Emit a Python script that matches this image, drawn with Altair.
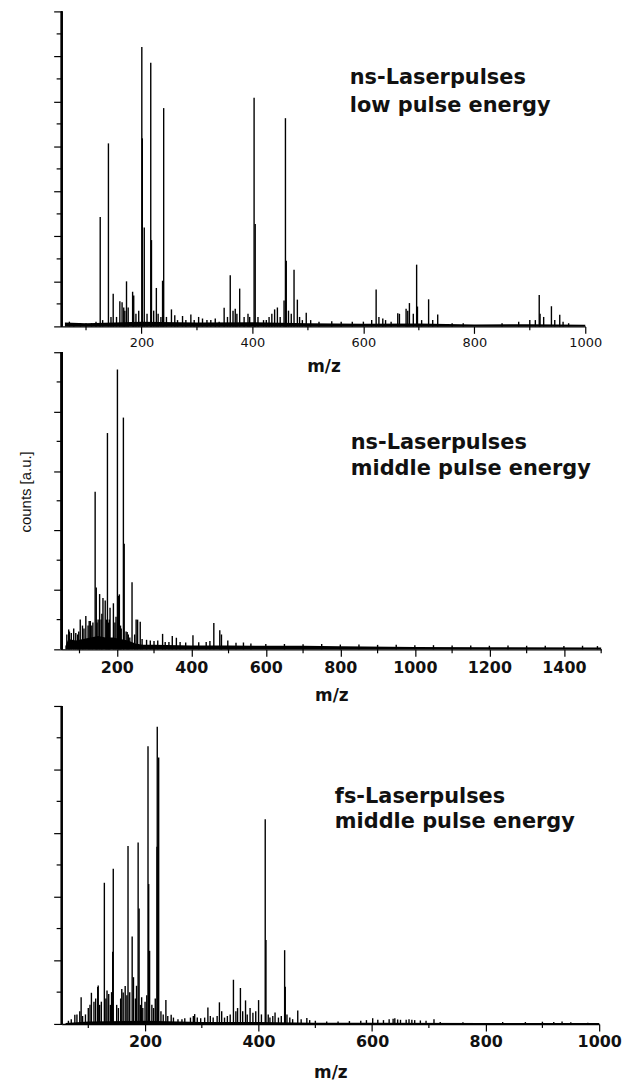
import altair as alt
import pandas as pd

# ---------------- data (% of panel height) ----------------
top_mz = [125.6, 140.4, 149, 161, 165, 173, 184, 186, 200.6, 201.5, 205, 216.7, 218, 226.8,
          238, 240, 254, 260, 274, 289, 303, 349, 360, 369, 377, 392, 403, 405, 440, 457,
          459.5, 461, 475, 481, 497, 543, 623, 662, 677, 683, 696, 697.5, 717.6, 734, 917,
          918.5, 939, 954,
          70, 78, 90, 100, 110, 118, 130, 145, 155, 168, 170, 176, 190, 195, 210, 222, 230,
          235, 245, 265, 280, 295, 310, 318, 325, 333, 340, 355, 365, 372, 385, 395, 410,
          420, 425, 430, 435, 445, 450, 465, 470, 485, 490, 505, 520, 560, 580, 600, 615,
          628, 635, 640, 650, 665, 680, 690, 705, 725, 760, 780, 850, 880, 900, 910, 925,
          945, 960, 970]
top_h = [34.7, 58.1, 10.4, 8, 7.7, 14.3, 11, 9.8, 88.7, 59.7, 31.4, 83.7, 27.4, 12.2,
         14.5, 69.3, 5.4, 3.5, 3.3, 3.8, 3, 5.9, 16.2, 5.6, 12, 4, 72.6, 32.5, 5.4, 8.2,
         66.1, 20.8, 18, 8.5, 4.3, 1.6, 11.7, 4.2, 5.6, 7.4, 19.6, 6.3, 8.6, 3.8, 10,
         4, 6.4, 3.7,
         1.5, 1, 1, 1, 1, 1.5, 2, 3, 3, 6, 5, 6, 4, 5, 4, 5, 4,
         3, 3, 2, 2, 2, 2.5, 2, 2, 2.5, 1.5, 3, 5, 4, 3, 3, 3,
         2, 2, 3, 4, 6, 3, 5, 4, 3, 2, 2, 1.5, 1.5, 1.5, 1.5, 2,
         3, 2.5, 2, 1.5, 4, 5, 4, 2, 2, 1, 1, 1, 1.5, 2, 2, 3,
         2, 1.5, 1]
top_bg_mz = [62, 100, 200, 300, 400, 500, 600, 700, 800, 900, 1000]
top_bg_h = [1.2, 1.0, 1.5, 1.2, 1.3, 1.0, 0.8, 0.9, 0.6, 0.7, 0.5]

mid_mz = [71, 84.5, 102, 117, 129, 142, 145, 154, 163, 169, 175, 182, 191, 201.8, 205, 207,
          217.8, 220, 228, 231, 241, 252, 256, 263, 323, 349, 360, 404.5, 460.5, 476.5, 481,
          498,
          66, 73, 78, 90, 95, 98, 108, 112, 123, 126, 133, 136, 147, 150, 158, 160, 172, 178,
          180, 195, 198, 210, 212, 225, 235, 248, 268, 280, 290, 300, 310, 330, 340, 370, 385,
          420, 440, 450, 520, 540, 560, 600, 650, 700, 750, 800, 850, 900, 950, 1000, 1050,
          1100, 1150, 1200, 1250, 1300, 1350, 1400, 1450, 1490]
mid_h = [6.7, 7, 10, 11.2, 9.5, 53, 20.8, 18.6, 17.3, 16.4, 72.8, 14, 15.5, 94.2, 18, 18.5,
         78, 35.5, 5.8, 5, 22.6, 10, 10, 9.3, 5.2, 4.5, 3.9, 4.7, 8.9, 6.4, 5,
         3,
         5, 6, 5.5, 5.5, 5, 6, 8, 7, 8, 9.5, 8, 9, 9, 10, 10, 12, 10, 9,
         10, 9, 11, 8, 7, 6, 4, 5, 3.5, 3.2, 3, 2.8, 3, 2.5, 2.5, 2.5, 2.3,
         2.4, 2.5, 2.8, 2.2, 2.3, 2, 1.8, 1.8, 1.7, 1.8, 1.6, 1.6, 1.5, 1.5, 1.4, 1.4,
         1.3, 1.3, 1.2, 1.3, 1.2, 1.2, 1.1, 1.2, 1.1]
mid_bg_mz = [62, 70, 90, 110, 130, 150, 170, 190, 210, 230, 250, 270, 300, 400, 500, 600,
             700, 800, 1000, 1200, 1500]
mid_bg_h = [1, 3.5, 3, 3.5, 4, 4.5, 4, 4, 3.5, 3, 2, 1.5, 1.5, 1.3, 1.3, 1.2, 1.2, 1.0, 0.8,
            0.7, 0.6]

bot_mz = [76.3, 87.4, 105.5, 116.6, 117.5, 128.3, 133, 136, 143, 144, 161.5, 165, 170, 177.3,
          179.6, 187.8, 189.5, 194, 205.2, 206.4, 208, 221, 221.5, 224, 236.7, 246, 287.4,
          310.7, 331, 355.7, 368, 377, 385, 400, 411.7, 413, 429, 445.9, 447, 469, 485, 601,
          637, 660, 675, 709, 934.6,
          65, 70, 80, 85, 90, 95, 100, 103, 110, 113, 120, 123, 131, 139, 141, 150, 153, 157,
          159, 168, 173, 183, 185, 192, 196, 200, 203, 212, 215, 218, 228, 232, 240, 250, 258,
          265, 270, 280, 285, 292, 298, 305, 315, 320, 327, 335, 340, 345, 350, 360, 363, 372,
          380, 390, 395, 405, 417, 420, 425, 435, 440, 450, 455, 460, 475, 490, 500, 520, 540,
          560, 580, 590, 610, 620, 630, 640, 645, 650, 665, 670, 685, 695, 720, 760, 830, 870,
          900, 920, 950, 980]
bot_h = [2.9, 8.4, 9.8, 11.6, 12.1, 44.4, 10.5, 9.4, 22.7, 48.8, 9.9, 11.9, 56, 27.5,
         14.7, 57.1, 36.3, 8.4, 87.3, 44, 23, 55.7, 93.5, 83.8, 7.5, 2.9, 3.1,
         5.2, 6.8, 13.9, 11.3, 7.4, 5, 7.5, 64.4, 26.4, 3.6, 23.2, 11.7, 4.2, 1.9, 1.8,
         1.6, 1.3, 1.2, 1.5, 0.8,
         1, 1.5, 3, 4, 2.5, 3, 5, 6, 7, 8, 6, 7, 8, 6, 10, 6, 5, 8,
         11, 9, 10, 8, 12, 6, 5, 7, 9, 6, 5, 8, 4, 3, 2.5, 2, 1.5,
         1.5, 1.8, 2, 2.5, 2, 1.8, 2, 2.5, 2, 2.5, 4, 2, 2.5, 3, 4, 5, 4,
         3, 3.5, 4, 3, 3, 2, 2.5, 2, 2.5, 3, 2, 1.5, 1.5, 1.2, 1, 0.8, 0.8,
         0.9, 1, 1.2, 1.3, 1.2, 1.5, 1.8, 1.4, 1.3, 1.5, 1.3, 1.1, 1.0, 0.6, 0.5, 0.6, 0.6,
         0.7, 0.6, 0.5, 0.4]
bot_bg_mz = [60, 100, 200, 300, 400, 500, 600, 800, 1000]
bot_bg_h = [0.3, 0.8, 1.0, 0.6, 0.6, 0.4, 0.4, 0.3, 0.3]

# axis tick values
x_major_1000 = [200, 400, 600, 800, 1000]
x_minor_1000 = [100, 300, 500, 700, 900]
x_major_1500 = [200, 400, 600, 800, 1000, 1200, 1400]
x_minor_1500 = [100, 300, 500, 700, 900, 1100, 1300, 1500]
y_major_top = [i * 100 / 7 for i in range(8)]
y_minor_top = [(2 * i + 1) * 100 / 14 for i in range(7)]
y_major_10 = [0, 20, 40, 60, 80, 100]
y_minor_10 = [10, 30, 50, 70, 90]

FONT = "DejaVu Sans"


def xaxis(values, bold, size, title_pad):
    return alt.Axis(
        values=values, format="d", tickSize=7,
        labelFont=FONT, labelFontSize=size, labelFontWeight="bold" if bold else "normal",
        labelPadding=3, labelFlush=False, labelOverlap=False,
        title="m/z", titleFont=FONT, titleFontSize=17, titleFontWeight="bold",
        titlePadding=title_pad, grid=False,
    )


def yaxis(values, title=None):
    kw = dict(values=values, labels=False, grid=False, domain=False, tickSize=8)
    if title:
        kw.update(title=title, titleFont="Liberation Sans",
                  titleFontSize=15, titleFontWeight="normal", titlePadding=20,
                  titleY=140)
    else:
        kw.update(title=None)
    return alt.Axis(**kw)


def panel(mz, h, bg_mz, bg_h, domain, ymax, xax, yax, xminor, yminor,
          lines, text_x, text_y, w, hgt):
    peaks = pd.DataFrame({"mz": mz, "h": h})
    bg = pd.DataFrame({"mz": bg_mz, "h": bg_h})
    xs = alt.Scale(domain=domain, nice=False, zero=False)
    ys = alt.Scale(domain=[0, ymax], nice=False, zero=True)
    area = alt.Chart(bg).mark_area(color="black", interpolate="linear").encode(
        x=alt.X("mz:Q", scale=xs, axis=xax), y=alt.Y("h:Q", scale=ys, axis=yax))
    rules = alt.Chart(peaks).mark_rule(color="black", strokeWidth=1.4).encode(
        x=alt.X("mz:Q", scale=xs), y=alt.Y("h:Q", scale=ys), y2=alt.datum(0))
    yline = alt.Chart(bg).mark_rule(color="black", strokeWidth=1.4).encode(
        x=alt.value(0), y=alt.datum(0), y2=alt.datum(100))
    xm = alt.Chart(pd.DataFrame({"v": xminor})).mark_rule(
        color="black", strokeWidth=1.2).encode(
        x=alt.X("v:Q", scale=xs), y=alt.value(hgt), y2=alt.value(hgt + 4))
    ym = alt.Chart(pd.DataFrame({"v": yminor})).mark_rule(
        color="black", strokeWidth=1.2).encode(
        y=alt.Y("v:Q", scale=ys), x=alt.value(0), x2=alt.value(-5))
    layers = [area, rules, yline, xm, ym]
    for line, ty in zip(lines, text_y):
        layers.append(
            alt.Chart(pd.DataFrame({"t": [line]})).mark_text(
                font=FONT, fontSize=21, fontWeight="bold", align="left",
                baseline="alphabetic", color="#111111").encode(
                x=alt.value(text_x), y=alt.value(ty), text="t:N"))
    return alt.layer(*layers).properties(width=w, height=hgt)


# bottom panel view is taller than its axis; the extra space above 100 % is the gap
BOT_H = 351
top = panel(top_mz, top_h, top_bg_mz, top_bg_h, [56, 1000], 100,
            xaxis(x_major_1000, False, 13, 9), yaxis(y_major_top),
            x_minor_1000, y_minor_top,
            ["ns-Laserpulses", "low pulse energy"], 290, [73, 101], 527, 317)
mid = panel(mid_mz, mid_h, mid_bg_mz, mid_bg_h, [52, 1500], 100,
            xaxis(x_major_1500, True, 16, 12), yaxis(y_major_10, "counts [a.u.]"),
            x_minor_1500, y_minor_10,
            ["ns-Laserpulses", "middle pulse energy"], 291, [97, 124], 543, 299)
bot = panel(bot_mz, bot_h, bot_bg_mz, bot_bg_h, [53, 1000], 100 * BOT_H / 320,
            xaxis(x_major_1000, True, 16, 15), yaxis(y_major_10),
            x_minor_1000, y_minor_10,
            ["fs-Laserpulses", "middle pulse energy"], 275, [129, 154], 541, BOT_H)

chart = alt.vconcat(top, mid, bot, spacing=26, bounds="flush").properties(
    padding={"left": 18, "top": 7, "right": 5, "bottom": 5}, background="white"
).configure_view(stroke=None).configure_axis(
    domainColor="black", domainWidth=1.4, tickColor="black", tickWidth=1.2,
    labelColor="#111111", titleColor="#111111",
)

chart.save("out.html", embed_options={"renderer": "svg", "actions": False})
